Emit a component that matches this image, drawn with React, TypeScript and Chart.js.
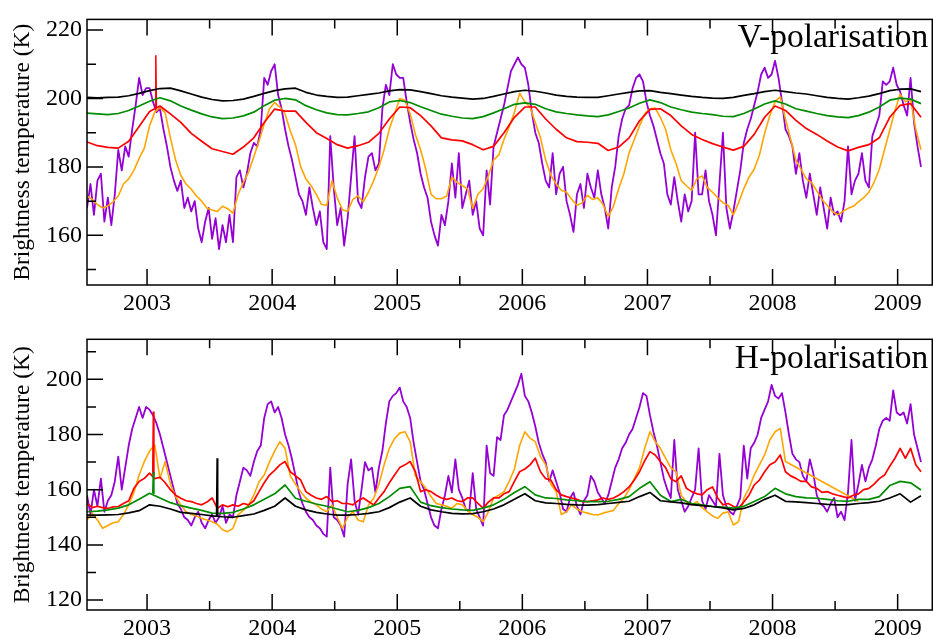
import React, { useEffect, useRef } from "react";
import { Chart, registerables } from "chart.js";

Chart.register(...registerables);

// ---- time axis -------------------------------------------------------------
const START = 2002.52; // first sample (decimal year)
const MONTHLY = 1 / 12;
const HALF_MONTHLY = 1 / 24;
const TEN_DAILY = 1 / 36;
const X_MIN = 2002.52;
const X_MAX = 2009.277;

const yearTicks = [2003, 2004, 2005, 2006, 2007, 2008, 2009];
const halfYearTicks = [2003.5, 2004.5, 2005.5, 2006.5, 2007.5, 2008.5];

const vMajorTicks = [160, 180, 200, 220];
const vMinorTicks = [150, 170, 190, 210];
const hMajorTicks = [120, 140, 160, 180, 200];
const hMinorTicks = [130, 150, 170, 190, 210];

// ---- V-polarisation (K) ----------------------------------------------------
// monthly samples
const vBlack = [
  200.3, 200.2, 200.3, 200.4, 200.8, 201.5, 202.3, 202.9, 203.0, 202.2, 201.3, 200.4,
  199.7, 199.3, 199.4, 199.8, 200.6, 201.5, 202.3, 202.8, 203.0, 201.8, 201.0, 200.6,
  200.3, 200.4, 200.8, 201.2, 201.6, 202.2, 202.6, 202.5, 202.0, 201.4, 200.8, 200.4,
  200.1, 199.8, 200.0, 200.6, 201.3, 202.0, 202.4, 202.1, 201.6, 201.0, 200.6, 200.4,
  200.3, 200.3, 200.8, 201.3, 201.8, 202.2, 202.3, 201.8, 201.4, 201.0, 200.6, 200.3,
  200.1, 200.0, 200.3, 200.9, 201.4, 202.0, 202.4, 202.0, 201.6, 201.3, 200.8, 200.3,
  200.0, 199.8, 200.2, 200.7, 201.4, 202.3, 202.7, 202.8, 202.0,
];
const vGreen = [
  195.7, 195.5, 195.3, 195.6, 196.5, 197.8, 199.2, 200.2, 199.3, 197.8, 196.6, 195.5,
  194.6, 194.1, 194.3, 194.9, 196.0, 197.9, 199.5, 200.0, 199.6, 197.9, 196.7, 195.8,
  195.3, 195.2, 195.6, 196.1, 197.3, 199.0, 199.4, 198.8, 197.6, 196.5, 195.4, 194.8,
  194.3, 194.1, 194.7, 195.8, 197.0, 198.3, 198.7, 198.3, 197.0, 196.1, 195.6, 195.2,
  194.9, 194.7, 195.2, 196.2, 197.2, 198.6, 199.6, 198.8, 197.5, 196.7, 196.0, 195.6,
  195.3, 194.8, 194.7, 195.6, 196.9, 198.4, 199.3, 198.4, 197.0, 196.3, 195.6, 195.0,
  194.6, 194.4, 195.0, 196.0, 197.5, 199.5, 200.1, 199.8, 198.5,
];
const vRed = [
  187.3, 186.2, 185.7, 185.5, 187.5, 191.8, 196.2, 197.8, 195.5, 193.0, 189.8, 187.5,
  185.3, 184.5, 183.7, 185.8, 188.5, 193.0, 196.9, 196.3, 196.3, 193.0, 190.0, 188.3,
  186.5, 185.5, 186.2, 187.2, 189.8, 194.0, 197.5, 197.3, 195.0, 192.0, 188.5, 187.9,
  187.6, 186.5, 185.0, 186.0, 190.0, 194.5, 197.5, 197.5, 194.0, 191.0, 188.5, 187.4,
  187.2, 186.9, 184.8, 185.8, 188.5, 193.5, 196.8, 197.0, 195.0, 192.0, 189.5, 188.0,
  186.8, 185.8, 184.9, 186.0, 189.5, 194.5, 197.8, 196.5, 193.6, 191.2, 189.5, 187.6,
  185.8, 184.7, 185.7, 186.5, 188.5, 194.5, 198.0, 198.5, 194.5,
];
const vRedSpike = [[2003.065, 197.2], [2003.07, 212.6], [2003.075, 197.3]];
// half-monthly samples
const vOrange = [
  171.5, 170.5, 169.0, 168.0, 168.6, 169.8, 171.5, 175.0, 176.5, 179.0, 182.5, 185.5,
  192.0, 196.0, 197.4, 195.8, 188.5, 182.0, 177.5, 175.0, 173.5, 171.5, 170.0, 168.0,
  167.4, 167.0, 168.5, 167.8, 166.5, 172.0, 175.5, 178.5, 183.0, 187.5, 192.5, 197.0,
  198.8, 197.5, 195.5, 190.5, 186.5, 180.0, 176.5, 174.5, 172.0, 169.0, 168.8, 176.0,
  171.0, 167.5, 167.0, 170.5, 171.5, 169.8, 172.6, 176.0, 180.0, 185.0, 191.0, 195.5,
  200.0, 199.5, 195.5, 189.5, 185.0, 179.3, 172.0, 170.7, 170.7, 171.5, 177.0, 175.5,
  174.5, 173.6, 167.9, 172.0, 173.6, 177.4, 182.0, 183.5, 188.0, 191.7, 196.0, 201.5,
  199.0, 197.5, 193.0, 188.5, 182.0, 177.5, 175.0, 173.2, 172.6, 170.5, 168.8, 169.5,
  171.7, 170.5, 171.0, 169.0, 165.5, 168.5, 173.6, 178.0, 184.1, 188.0, 192.0, 195.5,
  197.0, 197.2, 194.5, 191.0, 185.0, 181.0, 176.0, 174.5, 173.1, 176.5, 177.4, 174.0,
  172.6, 171.0, 169.5, 168.8, 166.0, 169.5, 173.6, 177.0, 179.3, 183.5, 189.8, 195.0,
  199.0, 200.5, 194.0, 188.0, 182.0, 179.3, 176.5, 175.5, 173.0, 170.5, 168.8, 167.0,
  166.0, 167.0, 167.9, 168.5, 169.8, 171.0, 172.6, 175.5, 179.3, 185.0, 190.7, 196.5,
  201.2, 199.0, 199.8, 191.0, 185.0,
];
// ten-daily samples
const vPurple = [
  168, 175, 166, 176, 178, 164, 171, 163, 172, 185, 179, 186, 183, 191, 198, 206, 201, 203,
  203, 199, 196, 197, 191, 186, 180, 176, 173, 176, 168, 171, 167, 170, 162, 158, 164, 168,
  159, 165, 156, 163, 158, 166, 158, 177, 179, 174, 178, 184, 187, 186, 191, 206, 204, 208,
  210, 201, 197, 191, 186, 182, 177, 172, 170, 166, 174, 168, 163, 167, 158, 156, 189, 174,
  163, 168, 157, 165, 177, 189, 170, 168, 177, 183, 184, 179, 181, 197, 204, 201, 210, 207,
  206, 206, 199, 193, 188, 184, 178, 174, 171, 164, 160, 157, 166, 163, 170, 181, 171, 184,
  168, 172, 176, 166, 170, 162, 160, 179, 169, 186, 190, 194, 198, 203, 208, 210, 212, 210,
  209, 204, 196, 190, 187, 181, 176, 174, 184, 172, 178, 180, 170, 166, 161, 172, 175, 168,
  178, 174, 171, 179, 172, 168, 162, 174, 180, 189, 194, 197, 198, 203, 206, 207, 205, 199,
  195, 192, 188, 184, 181, 172, 169, 177, 170, 164, 172, 167, 170, 190, 172, 172, 179, 170,
  166, 160, 175, 190, 168, 162, 167, 173, 179, 187, 191, 194, 198, 202, 207, 209, 206, 207,
  211, 206, 199, 191, 189, 186, 178, 184, 176, 171, 178, 172, 166, 174, 168, 162, 171, 166,
  167, 164, 170, 186, 172, 176, 178, 184, 176, 174, 189, 192, 195, 205, 204, 205, 209, 204,
  202, 198, 195, 206, 193, 186, 180,
];

// ---- H-polarisation (K) ----------------------------------------------------
const hBlack = [
  150.8, 150.8, 150.9, 151.0, 151.6, 152.4, 154.5, 154.0, 153.0, 151.8, 151.4, 151.0,
  150.5, 150.2, 150.0, 150.6, 151.2, 152.5, 154.0, 157.0, 154.0, 152.7, 151.8, 151.2,
  150.8, 150.8, 151.0, 151.4, 152.0, 153.5, 155.5, 157.0, 154.0, 152.7, 152.0, 151.4,
  151.2, 151.3, 152.0, 153.0, 154.5, 156.5, 158.5, 156.0, 155.2, 155.0, 154.7, 154.5,
  154.4, 154.6, 155.0, 155.4, 155.8, 157.5, 159.0, 156.0, 155.6, 155.2, 154.6, 154.2,
  153.9, 153.4, 152.7, 153.2, 154.5, 156.5, 158.0, 155.8, 155.6, 155.3, 155.0, 154.7,
  154.5, 154.6, 155.0, 155.3, 155.8, 157.0, 158.5, 155.5, 157.8,
];
const hBlackSpike = [[2003.555, 150.4], [2003.56, 171.4], [2003.565, 150.4]];
const hGreen = [
  152.0, 152.2, 152.7, 153.3, 154.5, 156.5, 158.7, 157.0, 155.3, 154.2, 153.3, 152.5,
  151.5, 151.4, 151.8, 153.0, 154.5, 156.5, 158.5, 161.7, 156.9, 155.8, 154.8, 154.0,
  153.0, 152.0, 152.5, 153.5, 155.0, 157.5, 160.5, 161.1, 155.5, 154.2, 153.5, 153.0,
  152.7, 152.5, 153.3, 154.5, 156.5, 159.0, 161.1, 158.1, 157.0, 156.8, 156.3, 156.0,
  155.7, 155.7, 155.8, 156.5, 157.5, 160.5, 162.9, 158.0, 155.7, 156.5, 155.0, 154.5,
  153.9, 153.7, 153.3, 154.0, 155.7, 157.5, 160.5, 158.5, 157.5, 157.0, 156.9, 156.5,
  156.0, 155.8, 156.5, 156.5, 157.5, 161.5, 163.0, 162.5, 159.9,
];
const hGreenSpike = [[2003.045, 158.6], [2003.05, 166.5], [2003.055, 158.4]];
const hRed = [
  155.0, 153.5, 154.0, 153.5, 153.2, 153.8, 153.9, 155.0, 156.0, 160.5, 163.0, 164.1,
  166.0, 164.0, 164.5, 162.5, 160.0, 158.0, 156.9, 156.0, 155.7, 155.0, 154.5, 155.5,
  157.0, 153.3, 154.5, 153.8, 154.5, 154.0, 155.0, 154.5, 156.0, 159.3, 162.5, 165.3,
  167.0, 169.0, 170.2, 166.5, 165.0, 163.5, 159.3, 158.0, 157.0, 156.5, 157.5, 155.7,
  156.0, 155.0, 155.0, 154.5, 156.0, 157.0, 155.7, 154.5, 157.0, 159.3, 162.5, 165.3,
  168.0, 169.0, 170.2, 166.5, 159.3, 160.0, 159.3, 158.0, 157.0, 156.5, 157.0, 156.0,
  155.7, 157.0, 157.0, 155.0, 153.3, 155.5, 157.0, 157.0, 158.5, 159.3, 163.0, 166.5,
  167.5, 169.0, 171.4, 166.5, 164.0, 163.5, 160.0, 158.1, 157.5, 157.0, 156.5, 155.7,
  155.7, 156.0, 156.3, 157.0, 156.5, 157.0, 158.0, 159.3, 161.0, 163.5, 166.5, 170.5,
  173.8, 172.6, 170.2, 168.0, 164.0, 162.9, 165.0, 160.5, 159.3, 158.5, 158.1, 160.0,
  161.0, 157.0, 154.5, 155.0, 154.0, 153.3, 155.5, 158.0, 161.7, 163.5, 166.5, 169.0,
  170.0, 172.6, 166.5, 165.0, 164.1, 163.0, 163.0, 161.0, 160.5, 159.0, 159.3, 158.5,
  158.0, 157.5, 157.0, 158.0, 158.5, 160.0, 160.5, 162.0, 164.0, 165.3, 168.5, 171.4,
  175.0, 171.4, 175.0, 169.0, 166.5,
];
const hRedSpike = [[2003.045, 165.5], [2003.05, 188.3], [2003.055, 165.0]];
// record has a gap in 2008 (null = missing)
const hOrange = [
  149.0, 151.5, 149.0, 146.0, 147.0, 148.0, 148.4, 151.0, 154.5, 159.0, 165.3, 170.2,
  174.0, 176.2, 164.1, 170.2, 162.0, 157.5, 154.5, 152.0, 151.0, 150.5, 149.6, 149.0,
  148.4, 147.5, 145.5, 144.8, 146.0, 151.0, 152.5, 154.5, 158.0, 162.9, 165.3, 170.0,
  174.0, 177.4, 175.0, 165.0, 162.0, 159.3, 156.9, 155.5, 154.5, 153.0, 152.0, 154.5,
  150.0, 146.0, 150.0, 152.0, 149.0, 148.4, 154.5, 156.9, 162.0, 169.0, 175.0, 178.5,
  180.5, 181.0, 177.4, 165.0, 162.9, 160.5, 157.5, 155.0, 154.5, 154.0, 153.3, 155.0,
  154.5, 152.5, 151.0, 150.0, 148.4, 152.0, 157.0, 158.0, 159.3, 163.0, 167.5, 176.0,
  181.0, 178.6, 177.4, 172.0, 169.0, 162.0, 159.3, 151.0, 152.0, 154.5, 153.0, 152.0,
  151.5, 151.0, 150.8, 151.5, 152.0, 152.5, 155.0, 156.9, 160.0, 164.0, 168.0, 175.0,
  181.0, 177.4, 175.0, 171.4, 168.0, 166.5, 158.0, 155.5, 154.5, 155.7, 153.5, 152.0,
  150.5, 149.6, 151.5, 152.0, 147.2, 148.4, 156.9, 160.5, 165.3, 169.0, 172.6, 178.0,
  181.0, 182.2, 170.2, null, null, null, null, null, null, null, null, null,
  null, null, null, null, 155.7,
];
const hPurple = [
  158, 151, 160, 154, 164, 152, 156, 158, 163, 172, 160, 168, 176, 182, 186, 190, 186, 190,
  189, 187, 184, 180, 175, 170, 165, 160, 155, 153, 150, 149, 147, 150, 152, 148, 146, 149,
  151, 148, 150, 154, 148, 151, 150, 158, 163, 168, 167, 165, 170, 174, 176, 186, 191, 192,
  188, 190, 186, 180, 176, 171, 165, 159, 155, 152, 150, 149, 147, 146, 144, 143, 168, 150,
  149, 147, 143, 162, 171, 156, 151, 160, 170, 167, 168, 159, 168, 174, 184, 192, 194, 195,
  197, 192, 190, 186, 177, 170, 163, 160, 155, 150, 147, 146, 153, 158, 165, 159, 171, 160,
  157, 153, 152, 166, 153, 150, 147, 176, 166, 165, 179, 178, 187, 189, 192, 195, 198, 202,
  194, 192, 188, 183, 177, 173, 170, 163, 167, 163, 159, 153, 152, 157, 159, 154, 151, 156,
  158, 165, 163, 159, 157, 155, 158, 163, 168, 171, 175, 177, 180, 182, 186, 190, 195, 194,
  187, 181, 176, 170, 164, 160, 157, 178, 160, 156, 152, 154, 157, 160, 175, 156, 153, 158,
  156, 154, 173, 158, 154, 152, 151, 154, 157, 176, 164, 175, 177, 180, 186, 189, 192, 198,
  194, 193, 195, 188, 180, 173, 171, 170, 165, 163, 171, 166, 158, 155, 154, 152, 155, 157,
  150, 152, 149, 159, 178, 156, 162, 169, 163, 168, 171, 176, 182, 185, 186, 185, 196, 188,
  187, 188, 184, 191, 180, 175, 170,
];

// ---- styling ---------------------------------------------------------------
const SERIF = "'Liberation Serif', 'Times New Roman', serif";
const PURPLE = "rgb(148,0,211)";
const ORANGE = "rgb(255,165,0)";
const RED = "rgb(255,0,0)";
const GREEN = "rgb(0,140,0)";
const BLACK = "rgb(0,0,0)";

type Series = { values: (number | null)[]; step: number; color: string; width: number; gaps?: boolean };
type Spike = { points: number[][]; color: string; width: number };

const toDataset = (s: Series) => ({
  data: s.values.map((v, i) => ({ x: START + i * s.step, y: v })),
  borderColor: s.color,
  borderWidth: s.width,
  pointRadius: 0,
  tension: 0,
  fill: false,
  spanGaps: !!s.gaps,
  borderJoinStyle: "round" as const,
});

const toSpikeDataset = (s: Spike) => ({
  data: s.points.map(([x, y]) => ({ x, y })),
  borderColor: s.color,
  borderWidth: s.width,
  pointRadius: 0,
  tension: 0,
  fill: false,
});

// Frame, inward tick marks (bottom, top, left) and the panel caption.
const framePlugin = {
  id: "frame",
  afterDatasetsDraw(chart: any, _args: any, opts: any) {
    const { ctx, chartArea: a, scales } = chart;
    const xs = scales.x;
    const ys = scales.y;
    const MAJOR = 16;
    const MINOR = 9;
    ctx.save();
    ctx.strokeStyle = "#000";
    ctx.lineWidth = 1.5;
    ctx.strokeRect(a.left, a.top, a.right - a.left, a.bottom - a.top);
    ctx.beginPath();
    const xTick = (v: number, len: number) => {
      const p = xs.getPixelForValue(v);
      ctx.moveTo(p, a.bottom);
      ctx.lineTo(p, a.bottom - len);
      ctx.moveTo(p, a.top);
      ctx.lineTo(p, a.top + len);
    };
    const yTick = (v: number, len: number) => {
      const p = ys.getPixelForValue(v);
      if (p < a.top || p > a.bottom) return;
      ctx.moveTo(a.left, p);
      ctx.lineTo(a.left + len, p);
    };
    yearTicks.forEach((v) => xTick(v, MAJOR));
    halfYearTicks.forEach((v) => xTick(v, MINOR));
    (opts.yMajor as number[]).forEach((v) => yTick(v, MAJOR));
    (opts.yMinor as number[]).forEach((v) => yTick(v, MINOR));
    ctx.stroke();

    ctx.fillStyle = "#000";
    ctx.font = `33.5px ${SERIF}`;
    ctx.textAlign = "right";
    ctx.textBaseline = "alphabetic";
    ctx.fillText(opts.label, a.right - 4, opts.baseline);
    ctx.restore();
  },
};

type PanelProps = {
  top: number;
  height: number;
  plotTop: number;
  plotBottom: number;
  yMin: number;
  yMax: number;
  yMajor: number[];
  yMinor: number[];
  label: string;
  labelBaseline: number;
  series: Series[];
  spikes: Spike[];
};

function Panel(p: PanelProps) {
  const ref = useRef<HTMLCanvasElement | null>(null);

  useEffect(() => {
    if (!ref.current) return;
    const tickFont = { family: SERIF, size: 24 };
    // first dataset in the list is painted last (on top)
    const datasets: any[] = [];
    p.series.forEach((s) => {
      datasets.push(toDataset(s));
      p.spikes.filter((k) => k.color === s.color).forEach((k) => datasets.push(toSpikeDataset(k)));
    });
    const chart = new Chart(ref.current, {
      type: "line",
      data: { datasets },
      plugins: [framePlugin],
      options: {
        animation: false,
        responsive: false,
        devicePixelRatio: 1,
        events: [],
        layout: { padding: { left: 0, right: 0.7, top: p.plotTop, bottom: 0 } },
        plugins: {
          legend: { display: false },
          tooltip: { enabled: false },
          frame: { label: p.label, baseline: p.labelBaseline, yMajor: p.yMajor, yMinor: p.yMinor },
        } as any,
        scales: {
          x: {
            type: "linear",
            min: X_MIN,
            max: X_MAX,
            afterBuildTicks: (s: any) => {
              s.ticks = yearTicks.map((v) => ({ value: v }));
            },
            afterFit: (s: any) => {
              s.height = p.height - p.plotBottom;
            },
            grid: { display: false, drawTicks: false },
            border: { display: false },
            ticks: {
              font: tickFont,
              color: "#000",
              padding: 4,
              maxRotation: 0,
              autoSkip: false,
              callback: (v: any) => String(v),
            },
          },
          y: {
            type: "linear",
            min: p.yMin,
            max: p.yMax,
            afterBuildTicks: (s: any) => {
              s.ticks = p.yMajor.map((v) => ({ value: v }));
            },
            afterFit: (s: any) => {
              s.width = 87;
            },
            grid: { display: false, drawTicks: false },
            border: { display: false },
            ticks: {
              font: tickFont,
              color: "#000",
              padding: 5,
              autoSkip: false,
              callback: (v: any) => String(v),
            },
            title: {
              display: true,
              text: "Brightness temperature (K)",
              color: "#000",
              font: { family: SERIF, size: 23.5 },
              padding: { top: 9, bottom: 0 },
            },
          },
        },
      },
    });
    return () => chart.destroy();
  }, []);

  return (
    <canvas
      ref={ref}
      width={933}
      height={p.height}
      style={{ position: "absolute", left: 0, top: p.top, width: 933, height: p.height }}
    />
  );
}

const vSeries: Series[] = [
  { values: vBlack, step: MONTHLY, color: BLACK, width: 1.7 },
  { values: vGreen, step: MONTHLY, color: GREEN, width: 1.7 },
  { values: vRed, step: MONTHLY, color: RED, width: 1.7 },
  { values: vOrange, step: HALF_MONTHLY, color: ORANGE, width: 1.6 },
  { values: vPurple, step: TEN_DAILY, color: PURPLE, width: 1.8 },
];
const vSpikes: Spike[] = [{ points: vRedSpike, color: RED, width: 1.5 }];

const hSeries: Series[] = [
  { values: hBlack, step: MONTHLY, color: BLACK, width: 1.7 },
  { values: hGreen, step: MONTHLY, color: GREEN, width: 1.7 },
  { values: hRed, step: HALF_MONTHLY, color: RED, width: 1.7 },
  { values: hOrange, step: HALF_MONTHLY, color: ORANGE, width: 1.6, gaps: true },
  { values: hPurple, step: TEN_DAILY, color: PURPLE, width: 1.8 },
];
const hSpikes: Spike[] = [
  { points: hBlackSpike, color: BLACK, width: 1.5 },
  { points: hGreenSpike, color: GREEN, width: 1.5 },
  { points: hRedSpike, color: RED, width: 1.5 },
];

export default function App() {
  return (
    <div style={{ position: "fixed", left: 0, top: 0, width: 933, height: 638, background: "#fff" }}>
      <Panel
        top={0}
        height={318}
        plotTop={14}
        plotBottom={285}
        yMin={145.5}
        yMax={223.1}
        yMajor={vMajorTicks}
        yMinor={vMinorTicks}
        label="V-polarisation"
        labelBaseline={47}
        series={vSeries}
        spikes={vSpikes}
      />
      <Panel
        top={318}
        height={320}
        plotTop={21.3}
        plotBottom={292}
        yMin={116.4}
        yMax={214.5}
        yMajor={hMajorTicks}
        yMinor={hMinorTicks}
        label="H-polarisation"
        labelBaseline={49.7}
        series={hSeries}
        spikes={hSpikes}
      />
    </div>
  );
}
